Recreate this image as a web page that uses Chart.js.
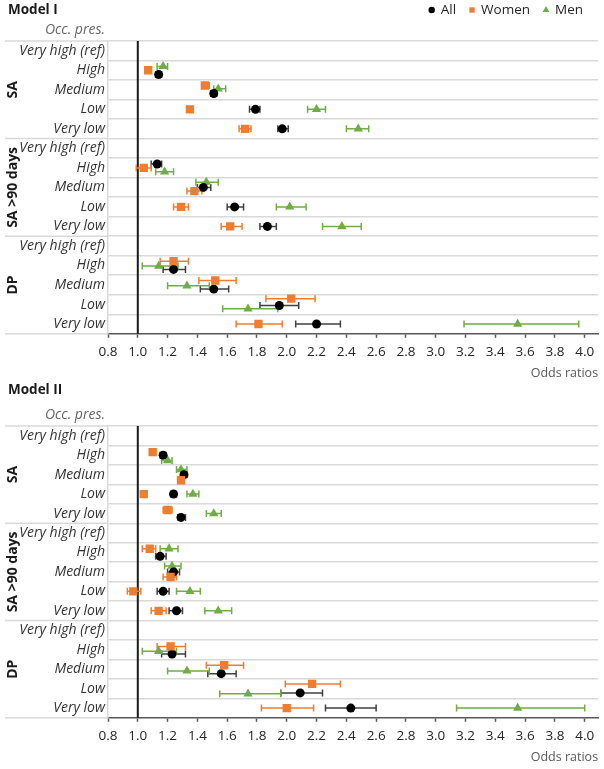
<!doctype html>
<html lang="en">
<head>
<meta charset="utf-8">
<title>Odds ratios by occupational prestige</title>
<script src="https://cdn.jsdelivr.net/npm/chart.js"></script>
<style>
  body{margin:0;background:#fff;}
  .panel{position:relative;width:604px;}
  canvas{display:block;}
</style>
</head>
<body>
<div class="panel" style="height:385px"><canvas id="m1" width="604" height="385"></canvas></div>
<!-- second panel tucks under the empty strip at the foot of the first -->
<div class="panel" style="height:390px;margin-top:-6px"><canvas id="m2" width="604" height="390"></canvas></div>

<script>
/* ─── data ─── */
const GROUPS = ['SA', 'SA >90 days', 'DP'];
const LEVELS = ['Very high (ref)', 'High', 'Medium', 'Low', 'Very low'];

// one entry per row: 3 groups x 5 levels, null = reference category
// Model I
const m1AllOR   = [null,1.14,1.51,1.79,1.97, null,1.13,1.44,1.65,1.87, null,1.24,1.51,1.95,2.20];
const m1AllLo   = [null,1.12,1.49,1.75,1.94, null,1.09,1.40,1.60,1.82, null,1.17,1.42,1.82,2.06];
const m1AllHi   = [null,1.16,1.53,1.82,2.01, null,1.16,1.49,1.71,1.93, null,1.32,1.61,2.08,2.36];
const m1WomenOR = [null,1.07,1.45,1.35,1.72, null,1.04,1.38,1.29,1.62, null,1.24,1.52,2.03,1.81];
const m1WomenLo = [null,1.05,1.43,1.33,1.68, null,0.99,1.33,1.24,1.56, null,1.15,1.41,1.86,1.66];
const m1WomenHi = [null,1.09,1.48,1.37,1.76, null,1.09,1.43,1.34,1.70, null,1.34,1.66,2.19,1.97];
const m1MenOR   = [null,1.17,1.54,2.20,2.48, null,1.18,1.46,2.02,2.37, null,1.14,1.33,1.74,3.55];
const m1MenLo   = [null,1.13,1.51,2.14,2.40, null,1.12,1.39,1.93,2.24, null,1.03,1.20,1.57,3.19];
const m1MenHi   = [null,1.20,1.59,2.26,2.55, null,1.24,1.54,2.13,2.50, null,1.27,1.48,1.94,3.96];
// vertical spread inside a row where markers would overlap (row units)
const m1AllJit   = [0, .22, .19,0,0, 0,-.20,  0,0,0, 0, .20, .21, .05,0];
const m1WomenJit = [0,   0,-.22,0,0, 0,   0, .19,0,0, 0,-.22,-.23,-.30,0];
const m1MenJit   = [0,-.20,-.05,0,0, 0, .20,-.27,0,0, 0, .03, .04, .22,0];

// Model II
const m2AllOR   = [null,1.17,1.31,1.24,1.29, null,1.15,1.24,1.17,1.26, null,1.23,1.56,2.09,2.43];
const m2AllLo   = [null,1.15,1.29,1.22,1.27, null,1.12,1.20,1.13,1.21, null,1.16,1.47,1.96,2.26];
const m2AllHi   = [null,1.19,1.33,1.26,1.32, null,1.19,1.28,1.21,1.30, null,1.32,1.66,2.24,2.60];
const m2WomenOR = [null,1.10,1.29,1.04,1.20, null,1.08,1.22,0.97,1.14, null,1.22,1.58,2.17,2.00];
const m2WomenLo = [null,1.08,1.27,1.02,1.17, null,1.03,1.17,0.93,1.09, null,1.13,1.46,1.99,1.83];
const m2WomenHi = [null,1.12,1.31,1.06,1.23, null,1.12,1.26,1.02,1.19, null,1.32,1.71,2.36,2.18];
const m2MenOR   = [null,1.20,1.29,1.37,1.51, null,1.21,1.23,1.35,1.54, null,1.14,1.33,1.74,3.55];
const m2MenLo   = [null,1.16,1.26,1.33,1.46, null,1.15,1.18,1.26,1.45, null,1.03,1.20,1.55,3.14];
const m2MenHi   = [null,1.23,1.33,1.41,1.56, null,1.27,1.29,1.42,1.63, null,1.26,1.48,1.96,4.00];
const m2AllJit   = [0,   0,   0,0, .20, 0, .20,  0,0,0, 0, .22, .23, .22,0];
const m2WomenJit = [0,-.16, .29,0,-.18, 0,-.19, .26,0,0, 0,-.17,-.20,-.24,0];
const m2MenJit   = [0, .27,-.26,0,   0, 0,-.19,-.30,0,0, 0, .08, .09, .27,0];

/* ─── styling ─── */
const FONT = "'Open Sans', sans-serif";
Chart.defaults.font.family = FONT;

const STYLE = {
  All:   {color:'#000000', bar:'#404040', pointStyle:'circle',   radius:4.5, legendRadius:3.2, order:1},
  Women: {color:'#ED7D31', bar:'#ED7D31', pointStyle:'rect',     radius:5.9, legendRadius:3.8, order:0},
  Men:   {color:'#70AD47', bar:'#70AD47', pointStyle:'triangle', radius:5.4, legendRadius:3.9, order:2},
};

const points = (or, lo, hi, jit) =>
  or.map((v,i) => v == null ? null : {x:v, y:i + 0.5 + jit[i], lo:lo[i], hi:hi[i]}).filter(Boolean);

const dataset = (label, data) => {
  const s = STYLE[label];
  return {
    label, data, order:s.order,
    pointStyle:s.pointStyle, pointRadius:s.radius, pointHoverRadius:s.radius,
    backgroundColor:s.color, borderColor:s.color, pointBorderWidth:0,
    barColor:s.bar, legendRadius:s.legendRadius
  };
};

/* error bars, group rules, ref line, row labels, legend */
const forestPlugin = {
  id:'forest',
  beforeDatasetsDraw(chart){
    const {ctx, chartArea:{left, top, bottom}, scales:{x, y}} = chart;
    ctx.save();
    ctx.strokeStyle = '#d9d9d9'; ctx.lineWidth = 1.5;
    for (let g = 0; g <= GROUPS.length; g++) {
      const yy = y.getPixelForValue(g * LEVELS.length);
      ctx.beginPath(); ctx.moveTo(5, yy); ctx.lineTo(left, yy); ctx.stroke();
    }
    const x1 = x.getPixelForValue(1);
    ctx.strokeStyle = '#1a1a1a'; ctx.lineWidth = 2;
    ctx.beginPath(); ctx.moveTo(x1, top); ctx.lineTo(x1, bottom); ctx.stroke();

    ctx.lineWidth = 1.5;
    chart.data.datasets.forEach(ds => {
      ctx.strokeStyle = ds.barColor;
      ds.data.forEach(p => {
        const a = x.getPixelForValue(p.lo), b = x.getPixelForValue(p.hi), yy = y.getPixelForValue(p.y);
        ctx.beginPath();
        ctx.moveTo(a, yy); ctx.lineTo(b, yy);
        ctx.moveTo(a, yy - 3.5); ctx.lineTo(a, yy + 3.5);
        ctx.moveTo(b, yy - 3.5); ctx.lineTo(b, yy + 3.5);
        ctx.stroke();
      });
    });
    ctx.restore();
  },
  afterDraw(chart, args, opts){
    const {ctx, chartArea:{top}, scales:{y}} = chart;
    ctx.save();
    ctx.textBaseline = 'middle';

    // panel title
    ctx.font = `bold 13.5px ${FONT}`;
    ctx.fillStyle = '#1a1a1a'; ctx.textAlign = 'left';
    ctx.fillText(opts.title, 8, opts.titleY);

    // column header + row labels
    ctx.font = `italic 14px ${FONT}`;
    ctx.textAlign = 'right';
    ctx.fillStyle = '#666666';
    ctx.fillText('Occ. pres.', 105, top - 11);
    ctx.fillStyle = '#333333';
    GROUPS.forEach((g, gi) => {
      LEVELS.forEach((lv, li) => {
        ctx.fillText(lv, 105, y.getPixelForValue(gi * LEVELS.length + li + 0.5));
      });
    });

    // group labels, rotated
    ctx.font = `bold 14px ${FONT}`;
    ctx.fillStyle = '#1a1a1a'; ctx.textAlign = 'center';
    GROUPS.forEach((g, gi) => {
      ctx.save();
      ctx.translate(13, y.getPixelForValue((gi + 0.5) * LEVELS.length));
      ctx.rotate(-Math.PI / 2);
      ctx.fillText(g, 0, 0);
      ctx.restore();
    });

    // legend (top right, first panel only)
    if (opts.legend) {
      ctx.font = `13.5px ${FONT}`;
      ctx.textAlign = 'left';
      const sets = chart.data.datasets;
      const widths = sets.map(ds => ctx.measureText(ds.label).width);
      const total = widths.reduce((s, w) => s + 9 + w, 0) + 16 * (sets.length - 1);
      let cx = 583 - total;
      sets.forEach((ds, i) => {
        ctx.fillStyle = ds.backgroundColor;
        Chart.helpers.drawPoint(ctx, {pointStyle:ds.pointStyle, radius:ds.legendRadius, rotation:0, borderWidth:0}, cx, 10);
        ctx.fillStyle = '#262626';
        ctx.fillText(ds.label, cx + 9, 10);
        cx += 9 + widths[i] + 16;
      });
    }
    ctx.restore();
  }
};

function makeChart(id, datasets, title, titleY, padTop, legend){
  return new Chart(document.getElementById(id), {
    type:'scatter',
    data:{datasets},
    options:{
      responsive:false, animation:false, events:[],
      layout:{padding:{top:padTop, right:4, left:0, bottom:0}},
      plugins:{
        legend:{display:false},
        tooltip:{enabled:false},
        forest:{title, titleY, legend}
      },
      scales:{
        x:{
          type:'linear', min:0.8, max:4.09,
          ticks:{stepSize:0.2, includeBounds:false, callback:v => v.toFixed(1),
                 color:'#262626', font:{size:13.5}, padding:6},
          grid:{drawOnChartArea:false, tickLength:4, tickColor:'#595959', tickWidth:1.5},
          border:{color:'#595959', width:1.5},
          title:{display:true, text:'Odds ratios', align:'end', color:'#595959',
                 font:{size:12.5}, padding:{top:0, bottom:4}}
        },
        y:{
          type:'linear', reverse:true, min:0, max:15,
          ticks:{stepSize:1, display:false},
          grid:{drawTicks:false, lineWidth:1.5,
                color:c => c.tick && c.tick.value === 15 ? 'rgba(0,0,0,0)' : '#d9d9d9'},
          border:{color:'#d9d9d9', width:1.5},
          afterFit:s => { s.width = 108; }
        }
      }
    },
    plugins:[forestPlugin]
  });
}

makeChart('m1', [
  dataset('All',   points(m1AllOR,   m1AllLo,   m1AllHi,   m1AllJit)),
  dataset('Women', points(m1WomenOR, m1WomenLo, m1WomenHi, m1WomenJit)),
  dataset('Men',   points(m1MenOR,   m1MenLo,   m1MenHi,   m1MenJit)),
], 'Model I', 10, 41, true);

makeChart('m2', [
  dataset('All',   points(m2AllOR,   m2AllLo,   m2AllHi,   m2AllJit)),
  dataset('Women', points(m2WomenOR, m2WomenLo, m2WomenHi, m2WomenJit)),
  dataset('Men',   points(m2MenOR,   m2MenLo,   m2MenHi,   m2MenJit)),
], 'Model II', 11.5, 47, false);
</script>
</body>
</html>
